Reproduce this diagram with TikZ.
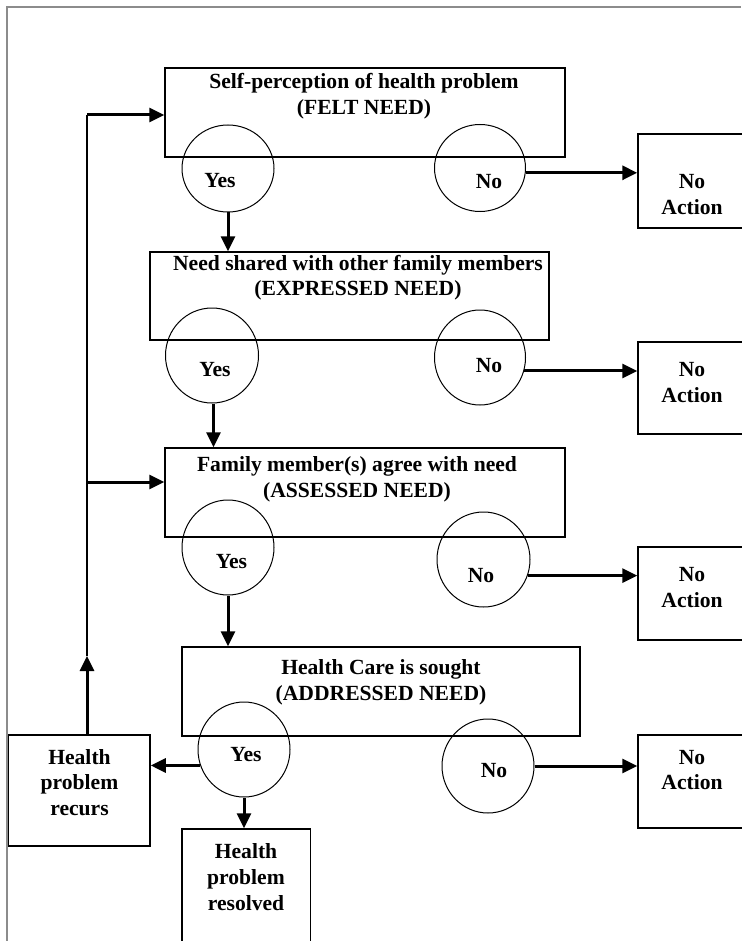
\documentclass[tikz,border=0pt]{standalone}
\usepackage{fontspec}
\setmainfont{Liberation Serif}
\usetikzlibrary{shapes.geometric,arrows.meta}

\def\px{0.5pt}

\begin{document}
\begin{tikzpicture}[
  x=\px,y=-\px,
  needbox/.style={draw=black,line width=0.75pt,inner sep=0pt},
  choice/.style={ellipse,draw=black,line width=0.5pt,inner sep=0pt},
  boxtext/.style={font=\bfseries\fontsize{10.8}{12.8}\selectfont,align=center,inner sep=0pt},
  flow/.style={line width=1.5pt,-{Triangle[length=7.5pt,width=7pt]}},
  feedback/.style={line width=0.7pt},
  frameline/.style={draw=black!45,line width=0.6pt}]

  \useasboundingbox (0,0) rectangle (741,941);
  % page frame
  \draw[frameline] (7,941) -- (7,7) -- (741,7);

% Need boxes
  \node[needbox,minimum width=200pt,minimum height=44.5pt] (felt) at (365,112.5) {};
  \node[needbox,minimum width=199.5pt,minimum height=44pt] (expressed) at (349.5,296) {};
  \node[needbox,minimum width=200pt,minimum height=44.5pt] (assessed) at (365,492.5) {};
  \node[needbox,minimum width=199pt,minimum height=44.5pt] (addressed) at (381,691.5) {};
  \node[boxtext] (feltlbl) at (364,96) {Self-perception of health problem\\(FELT NEED)};
  \node[boxtext] (expressedlbl) at (358,277.5) {Need shared with other family members\\(EXPRESSED NEED)};
  \node[boxtext] (assessedlbl) at (357,479.5) {Family member(s) agree with need\\(ASSESSED NEED)};
  \node[boxtext] (addressedlbl) at (381,682) {Health Care is sought\\(ADDRESSED NEED)};

% Yes / No circles, last two parameters are the text position
  \foreach \nm/\x/\y/\w/\h/\tx/\ty/\t in {
      yes1/228/168.5/92/87/220/181/Yes, no1/480/168/91/87/489/182/No,
      yes2/212/355.5/93/95/215/370/Yes, no2/480/357.5/91/95/489/366/No,
      yes3/228/547.5/92/95/231.5/562/Yes, no3/483.5/559.5/93/95/481/576/No,
      yes4/244/749.5/92/95/246/755/Yes, no4/488/766/92/94/494/771/No}{
    \node[choice,minimum width=\w*\px,minimum height=\h*\px] (\nm) at (\x,\y) {};
    \node[boxtext] (\nm lbl) at (\tx,\ty) {\t};
  }

% No Action boxes
  \foreach \i/\y/\h/\ty in {1/181/94/194.5, 2/388/92/382.5, 3/593.5/93/587.5, 4/781.5/93/770}{
    \node[needbox,minimum width=54pt,minimum height=\h*\px] (noact\i) at (692,\y) {};
    \node[boxtext] (noact\i lbl) at (692,\ty) {No\\Action};
  }

% Outcome boxes
  \node[needbox,minimum width=70.75pt,minimum height=55.5pt] (recurs) at (79.25,790.5) {};
  \node[boxtext] (recurslbl) at (79.5,782.5) {Health\\problem\\recurs};
  \node[needbox,minimum width=64.25pt,minimum height=58pt] (resolved) at (246.25,887) {};
  \node[boxtext] (resolvedlbl) at (246,877) {Health\\problem\\resolved};

% Yes arrows
  \draw[flow] (yes1.south) -- (yes1.south |- expressed.north);
  \draw[flow] ([xshift=0.75pt]yes2.south) -- ([xshift=0.75pt]yes2.south |- assessed.north);
  \draw[flow] (yes3.south) -- (yes3.south |- addressed.north);
  \draw[flow] (yes4.south) -- (yes4.south |- resolved.north);
  \draw[flow] (yes4.200) -- (yes4.200 -| recurs.east);

% No arrows
  \draw[flow] (no1.-6) -- (no1.-6 -| noact1.west);
  \draw[flow] (no2.-17) -- (no2.-17 -| noact2.west);
  \draw[flow] (no3.-20) -- (no3.-20 -| noact3.west);
  \draw[flow] (no4.east) -- (no4.east -| noact4.west);

% Feedback loop
  \coordinate (fbtop) at (87,115);
  \coordinate (fbmid) at (87,482);
  \coordinate (fbup) at (87,656);
  \draw[flow] (fbup |- recurs.north) -- (fbup);
  \draw[feedback] (fbup) -- (fbtop);
  \draw[flow] (fbtop) -- (fbtop -| felt.west);
  \draw[flow] (fbmid) -- (fbmid -| assessed.west);
\end{tikzpicture}
\end{document}
